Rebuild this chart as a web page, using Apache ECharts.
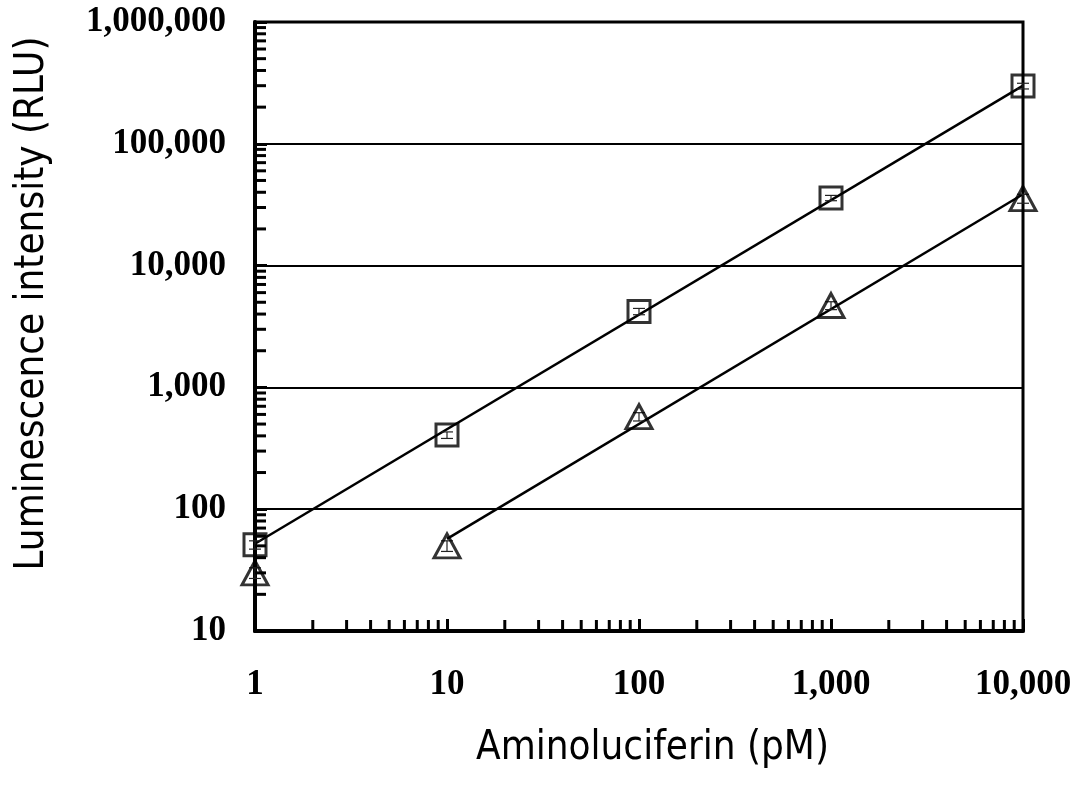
<!DOCTYPE html>
<html>
<head>
<meta charset="utf-8">
<script src="https://cdn.jsdelivr.net/npm/echarts@6/dist/echarts.min.js"></script>
<style>
  html, body { margin: 0; padding: 0; background: #fff; }
  #chart { width: 1080px; height: 794px; }
</style>
</head>
<body>
<div id="chart"></div>
<script>
// concentrations (pM)
var conc = [1, 10, 100, 1000, 10000];
// mean luminescence (RLU)
var squareVals = [51, 406, 4200, 35900, 298000];
var triangleVals = [30, 50, 575, 4700, 35500];
// standard deviations (error bars)
var squareErr = [4, 25, 250, 1800, 16000];
var triangleErr = [3, 5, 45, 350, 3000];
// power-law fit end points
var squareFitX = [1, 10000];
var squareFitY = [52, 300000];
var triangleFitX = [10, 10000];
var triangleFitY = [57, 38500];
// axis ranges
var xMin = 1, xMax = 10000;
var yMin = 10, yMax = 1000000;

function pairs(xs, ys) {
  return xs.map(function (x, i) { return [x, ys[i]]; });
}
function errData(xs, ys, es) {
  return xs.map(function (x, i) { return [x, ys[i] - es[i], ys[i] + es[i]]; });
}

// minor tick values 2..9 in each decade
var minorTicks = [];
for (var d = xMin; d < xMax; d *= 10) {
  for (var k = 2; k <= 9; k++) minorTicks.push([d * k, 'x']);
}
for (var d2 = yMin; d2 < yMax; d2 *= 10) {
  for (var k2 = 2; k2 <= 9; k2++) minorTicks.push([d2 * k2, 'y']);
}

var fmt = function (v) { return Math.round(v).toLocaleString('en-US'); };

var chart = echarts.init(document.getElementById('chart'));

var errRender = function (params, api) {
  var x = api.value(0);
  var lo = api.coord([x, api.value(1)]);
  var hi = api.coord([x, api.value(2)]);
  var w = 6;
  var st = { stroke: '#222', lineWidth: 1.2 };
  return {
    type: 'group',
    children: [
      { type: 'line', shape: { x1: lo[0], y1: lo[1], x2: hi[0], y2: hi[1] }, style: st },
      { type: 'line', shape: { x1: lo[0] - w, y1: lo[1], x2: lo[0] + w, y2: lo[1] }, style: st },
      { type: 'line', shape: { x1: hi[0] - w, y1: hi[1], x2: hi[0] + w, y2: hi[1] }, style: st }
    ]
  };
};

var titleFont = { fontFamily: 'DejaVu Sans Condensed', fontSize: 40, color: '#000' };
var tickFont = { fontFamily: 'Liberation Serif', fontWeight: 'bold', fontSize: 35, color: '#000' };

var option = {
  animation: false,
  backgroundColor: '#fff',
  grid: {
    left: 255, right: 57, top: 22, bottom: 163,
    show: true, borderColor: '#000', borderWidth: 3
  },
  xAxis: {
    type: 'log',
    logBase: 10,
    min: xMin,
    max: xMax,
    name: 'Aminoluciferin (pM)',
    nameLocation: 'middle',
    nameGap: 98,
    nameTextStyle: Object.assign({ padding: [0, 0, 0, 27] }, titleFont),
    axisLine: { show: true, lineStyle: { color: '#000', width: 4 } },
    axisTick: { show: true, inside: true, length: 12, lineStyle: { color: '#000', width: 3 } },
    axisLabel: Object.assign({ formatter: fmt, margin: 36 }, tickFont),
    splitLine: { show: false }
  },
  yAxis: {
    type: 'log',
    logBase: 10,
    min: yMin,
    max: yMax,
    name: 'Luminescence intensity (RLU)',
    nameLocation: 'middle',
    nameGap: 202,
    nameTextStyle: Object.assign({ padding: [0, 0, 0, 46] }, titleFont),
    axisLine: { show: true, lineStyle: { color: '#000', width: 4 } },
    axisTick: { show: true, inside: true, length: 12, lineStyle: { color: '#000', width: 3 } },
    axisLabel: Object.assign({ formatter: fmt, margin: 29 }, tickFont),
    splitLine: { show: true, lineStyle: { color: '#000', width: 2 } }
  },
  series: [
    {
      type: 'custom',
      name: 'minor ticks',
      silent: true,
      clip: false,
      z: 5,
      data: minorTicks,
      renderItem: function (params, api) {
        var v = api.value(0);
        var axis = minorTicks[params.dataIndex][1];
        var p;
        var st = { stroke: '#000', lineWidth: 3 };
        if (axis === 'x') {
          p = api.coord([v, yMin]);
          return { type: 'line', shape: { x1: p[0], y1: p[1], x2: p[0], y2: p[1] - 11 }, style: st };
        }
        p = api.coord([xMin, v]);
        return { type: 'line', shape: { x1: p[0], y1: p[1], x2: p[0] + 11, y2: p[1] }, style: st };
      }
    },
    {
      type: 'line',
      name: 'square fit',
      data: pairs(squareFitX, squareFitY),
      showSymbol: false,
      lineStyle: { color: '#000', width: 2.5 },
      z: 3
    },
    {
      type: 'line',
      name: 'triangle fit',
      data: pairs(triangleFitX, triangleFitY),
      showSymbol: false,
      lineStyle: { color: '#000', width: 2.5 },
      z: 3
    },
    {
      type: 'custom',
      name: 'square err',
      data: errData(conc, squareVals, squareErr),
      renderItem: errRender,
      clip: false,
      z: 4
    },
    {
      type: 'custom',
      name: 'triangle err',
      data: errData(conc, triangleVals, triangleErr),
      renderItem: errRender,
      clip: false,
      z: 4
    },
    {
      type: 'scatter',
      name: 'square',
      data: pairs(conc, squareVals),
      symbol: 'rect',
      symbolSize: 22,
      clip: false,
      itemStyle: { color: 'transparent', borderColor: '#000', borderWidth: 3 },
      z: 6
    },
    {
      type: 'scatter',
      name: 'triangle',
      data: pairs(conc, triangleVals),
      symbol: 'triangle',
      symbolSize: [26, 24],
      clip: false,
      itemStyle: { color: 'transparent', borderColor: '#000', borderWidth: 3 },
      z: 6
    }
  ]
};

chart.setOption(option);
</script>
</body>
</html>
